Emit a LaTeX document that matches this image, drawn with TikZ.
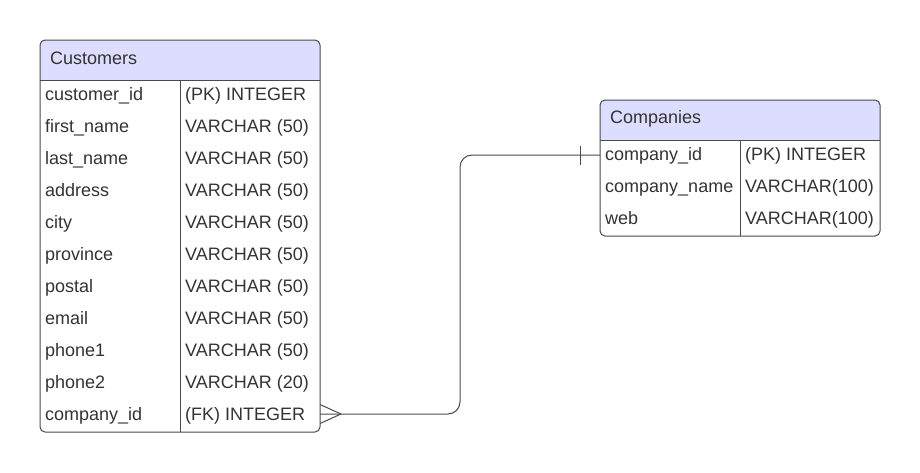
\documentclass[tikz,border=0pt]{standalone}
\usepackage{fontspec}
\setmainfont{Liberation Sans}
\usetikzlibrary{positioning}
\definecolor{intest}{HTML}{DDDDFF}
\definecolor{bordo}{HTML}{4A4A4A}
\definecolor{testo}{HTML}{333333}

\begin{document}
\begin{tikzpicture}[x=1pt,y=-1pt,
    cornice/.style={draw=bordo, line width=1pt, rounded corners=5pt},
    riga/.style={line width=1pt, draw=bordo},
    campo/.style={anchor=base west, inner sep=0pt, text=testo, font=\fontsize{18}{20}\selectfont},
    titolo/.style={anchor=base west, inner sep=0pt, text=testo, font=\fontsize{18}{20}\selectfont},
    linea/.style={draw=bordo, line width=1pt}]
    \useasboundingbox (0,0) rectangle (920,472);

    % Tabella Customers
    \fill[intest] (40,80) [rounded corners=5pt] -- (40,40) -- (320,40) [sharp corners] -- (320,80) -- cycle;
    \draw[cornice] (40,40) rectangle (320,432);
    \draw[riga] (40,80) -- (320,80);
    \draw[riga] (180,80) -- (180,432);
    \node[titolo] (cu-t) at (50,64.5) {Customers};
    \foreach \n/\tipo [count=\i from 0] in {customer\_id/(PK) INTEGER, first\_name/VARCHAR (50),
        last\_name/VARCHAR (50), address/VARCHAR (50), city/VARCHAR (50), province/VARCHAR (50),
        postal/VARCHAR (50), email/VARCHAR (50), phone1/VARCHAR (50), phone2/VARCHAR (20),
        company\_id/(FK) INTEGER} {
        \node[campo] (cu-n\i) at (45,100.5+32*\i) {\n};
        \node[campo] (cu-t\i) at (185,100.5+32*\i) {\tipo};
    }

    % Tabella Companies
    \fill[intest] (600,140) [rounded corners=5pt] -- (600,100) -- (880,100) [sharp corners] -- (880,140) -- cycle;
    \draw[cornice] (600,100) rectangle (880,236);
    \draw[riga] (600,140) -- (880,140);
    \draw[riga] (740,140) -- (740,236);
    \node[titolo] (co-t) at (610,123.5) {Companies};
    \foreach \n/\tipo [count=\i from 0] in {company\_id/(PK) INTEGER,
        company\_name/VARCHAR(100), web/VARCHAR(100)} {
        \node[campo] (co-n\i) at (605,160.5+32*\i) {\n};
        \node[campo] (co-t\i) at (745,160.5+32*\i) {\tipo};
    }

    % Relazione
    \coordinate (fk) at (320,414);
    \coordinate (pk) at (600,155);
    \coordinate (gomito) at (460,300);
    \draw[linea, rounded corners=12pt] (fk) -| (gomito) |- (pk);

    % Molti (zampa di gallina)
    \coordinate (punta) at (341,414);
    \draw[linea] (punta) -- (320,404.5);
    \draw[linea] (punta) -- (320,423.5);

    % Uno
    \draw[linea] (580,145.5) -- (580,165);
\end{tikzpicture}
\end{document}
